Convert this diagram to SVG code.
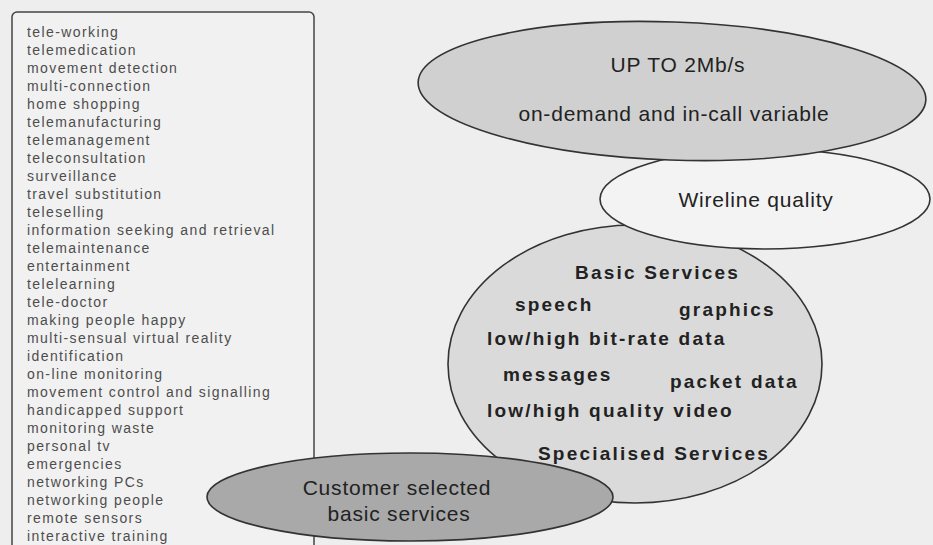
<svg xmlns="http://www.w3.org/2000/svg" width="933" height="545" viewBox="0 0 933 545">
<style>
.list{font-family:"Liberation Sans",Arial,sans-serif;font-size:14px;letter-spacing:1.4px;fill:#4d4d4d}
.reg{font-family:"Liberation Sans",Arial,sans-serif;font-size:21px;letter-spacing:0.8px;fill:#222;text-anchor:middle}
.bold{font-family:"Liberation Sans",Arial,sans-serif;font-size:19px;font-weight:bold;letter-spacing:2.2px;fill:#222}
.ell{stroke:#333;stroke-width:1.6}
</style>
<rect x="0" y="0" width="933" height="545" fill="#eeeeee"/>
<g id="applications">
<rect x="12" y="12" width="302" height="560" rx="5" fill="#f1f1f1" stroke="#444" stroke-width="1.5"/>
<text class="list" x="27" y="37">
<tspan x="27" dy="0">tele-working</tspan>
<tspan x="27" dy="18">telemedication</tspan>
<tspan x="27" dy="18">movement detection</tspan>
<tspan x="27" dy="18">multi-connection</tspan>
<tspan x="27" dy="18">home shopping</tspan>
<tspan x="27" dy="18">telemanufacturing</tspan>
<tspan x="27" dy="18">telemanagement</tspan>
<tspan x="27" dy="18">teleconsultation</tspan>
<tspan x="27" dy="18">surveillance</tspan>
<tspan x="27" dy="18">travel substitution</tspan>
<tspan x="27" dy="18">teleselling</tspan>
<tspan x="27" dy="18">information seeking and retrieval</tspan>
<tspan x="27" dy="18">telemaintenance</tspan>
<tspan x="27" dy="18">entertainment</tspan>
<tspan x="27" dy="18">telelearning</tspan>
<tspan x="27" dy="18">tele-doctor</tspan>
<tspan x="27" dy="18">making people happy</tspan>
<tspan x="27" dy="18">multi-sensual virtual reality</tspan>
<tspan x="27" dy="18">identification</tspan>
<tspan x="27" dy="18">on-line monitoring</tspan>
<tspan x="27" dy="18">movement control and signalling</tspan>
<tspan x="27" dy="18">handicapped support</tspan>
<tspan x="27" dy="18">monitoring waste</tspan>
<tspan x="27" dy="18">personal tv</tspan>
<tspan x="27" dy="18">emergencies</tspan>
<tspan x="27" dy="18">networking PCs</tspan>
<tspan x="27" dy="18">networking people</tspan>
<tspan x="27" dy="18">remote sensors</tspan>
<tspan x="27" dy="18">interactive training</tspan>
</text>
</g>
<g id="services">
<ellipse class="ell" cx="635" cy="364" rx="187" ry="139" fill="#dadada"/>
<text class="bold" x="575" y="279">Basic Services</text>
<text class="bold" x="515" y="311">speech</text>
<text class="bold" x="679" y="316">graphics</text>
<text class="bold" x="487" y="345">low/high bit-rate data</text>
<text class="bold" x="503" y="381">messages</text>
<text class="bold" x="670" y="388">packet data</text>
<text class="bold" x="487" y="417">low/high quality video</text>
<text class="bold" x="538" y="460">Specialised Services</text>
</g>
<g id="wireline">
<ellipse class="ell" cx="765" cy="199" rx="165" ry="50" fill="#f3f3f3"/>
<text class="reg" x="756" y="207">Wireline quality</text>
</g>
<g id="bitrate">
<ellipse class="ell" cx="672" cy="91" rx="254" ry="69" fill="#d0d0d0" transform="rotate(2 672 91)"/>
<text class="reg" x="678" y="72">UP TO 2Mb/s</text>
<text class="reg" x="674" y="121">on-demand and in-call variable</text>
</g>
<g id="customer">
<ellipse class="ell" cx="410" cy="497" rx="203" ry="44" fill="#a9a9a9"/>
<text class="reg" x="397" y="495">Customer selected</text>
<text class="reg" x="399" y="521">basic services</text>
</g>
<g id="connectors"/>
</svg>
